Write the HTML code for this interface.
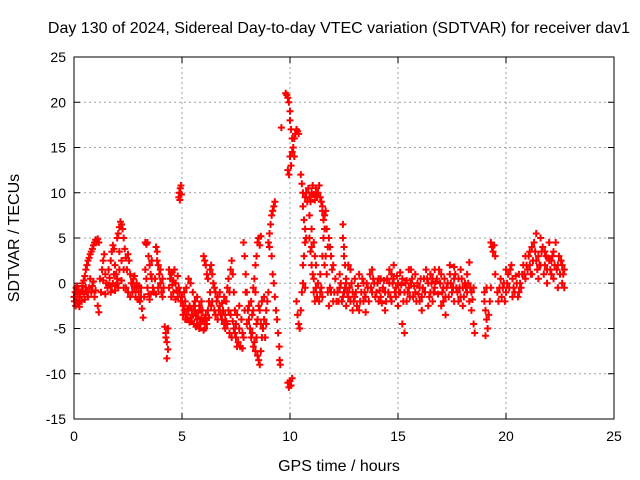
<!DOCTYPE html>
<html><head><meta charset="utf-8"><style>
body{margin:0;background:#fff;}
svg{display:block;font-family:"Liberation Sans",sans-serif;}
</style></head><body>
<svg id="chart" width="640" height="480">
<rect x="0" y="0" width="640" height="480" fill="#fff"/>
<text x="339" y="33" font-size="16" text-anchor="middle">Day 130 of 2024, Sidereal Day-to-day VTEC variation (SDTVAR) for receiver dav1</text>
<text x="339" y="471" font-size="16" text-anchor="middle">GPS time / hours</text>
<text transform="translate(19,238) rotate(-90)" font-size="16" text-anchor="middle">SDTVAR / TECUs</text>
<g id="grid"></g><g id="ticks"></g><g id="pts"></g>
<rect x="74" y="57" width="540" height="362" fill="none" stroke="#000" stroke-width="1"/>
</svg>
<script>
const xTicks=[0,5,10,15,20,25];
const yTicks=[-15,-10,-5,0,5,10,15,20,25];
const segStart=[[0,-1.5],[0.02,-2],[0.05,-1],[0.08,-2.5],[0.1,-0.5],[0.12,-1.8],[0.15,-1.2],[0.18,-2.2],[0.2,-0.8],[0.25,-1.5],[0.3,-1],[0.35,-2],[0.4,-0.3],[0.45,-1.2],[0.5,-1.8],[0.55,-0.5],[0.6,-1],[0.4,0],[0.5,0.8],[0.55,1.5],[0.6,2],[0.65,2.5],[0.7,2.8],[0.75,3.2],[0.8,3.5],[0.85,3.8],[0.9,4.2],[0.95,4.5],[1.0,4.8],[1.05,4.6],[1.1,4.9],[1.15,4.5],[0.7,-0.5],[0.8,-1],[0.9,0.2],[1.0,-0.8],[1.1,-2.5],[1.15,-3.2],[1.2,0.5],[1.3,1.5],[1.35,2.5],[1.4,3.2],[1.45,1],[1.5,0],[1.55,-0.5],[1.6,1.5],[1.7,2.5],[1.75,3.5],[1.8,4.2],[1.85,3.8],[1.9,2],[1.95,1],[2.0,0],[2.05,-0.5],[2.0,5],[2.05,5.5],[2.1,6.2],[2.15,6.8],[2.2,6.5],[2.25,6],[2.3,5],[0.15,-0.3],[0.25,-2.6],[0.35,-0.8],[0.45,0.3],[0.65,-1.5],[0.75,0.5],[0.85,-0.3],[0.95,-1.5],[1.25,-1],[1.35,0.3],[1.45,-1.2],[1.65,0.6],[1.75,-0.3],[1.85,1],[1.95,-0.2],[2.1,3.5],[2.2,2.5],[2.3,1.5],[2.35,3.8]];
const segEarly=[[1.6,-0.2],[1.7,-1],[1.8,0],[1.9,-0.8],[2.0,0.5],[2.1,1.5],[2.2,0.3],[2.3,-0.5],[2.4,2.8],[2.5,3.2],[2.45,1.5],[2.55,2.5],[2.6,1],[2.65,0],[2.7,-1],[2.75,0.5],[2.8,-0.5],[2.85,-1.5],[2.9,-0.5],[3.0,-1],[3.05,-2],[3.1,-1.5],[3.15,-2.8],[3.2,-3.8],[3.25,-1.5],[2.4,-0.5],[2.5,-1],[2.6,-1.5],[2.7,0],[2.8,0.8],[2.9,0],[3.0,-0.3],[3.3,4.5],[3.35,4.3],[3.4,4.5],[3.45,3],[3.5,2],[3.55,1],[3.6,0.5],[3.65,-0.5],[3.7,-1],[3.3,1.5],[3.35,0.5],[3.4,-0.5],[3.45,-1.2],[3.5,-1.8],[3.8,4],[3.85,3.5],[3.9,2],[3.95,1],[4.0,0],[4.05,-1],[4.1,-1.5],[4.15,-0.5],[3.9,-0.5],[3.85,2.5],[4.2,-4.8],[4.25,-5.5],[4.3,-6.5],[4.35,-7.3],[4.3,-8.3],[4.25,-6],[4.35,-5],[4.4,1.5],[4.45,0.5],[4.5,1],[4.55,-0.2],[4.6,0.3],[4.65,1.5],[4.7,0],[4.75,-0.8],[4.8,-1.5],[4.85,-0.5],[4.9,-1],[4.95,-2],[4.5,-1.5],[4.6,-1],[4.85,9.5],[4.88,10],[4.9,9.2],[4.92,10.5],[4.95,10.8],[4.97,9.8],[2.95,-1.8],[3.1,-0.5],[3.55,-1.2],[3.6,2.5],[3.75,0.5],[3.8,-1.2],[4.0,1.5],[4.1,0.5],[4.4,-0.5],[4.55,1.2],[4.7,-1.8],[4.8,0.8]];
const segMid=[[5.0,-1.5],[5.05,-2.5],[5.1,-3],[5.15,-2],[5.2,-3.5],[5.25,-4],[5.3,-3],[5.35,-2.5],[5.4,-3.8],[5.45,-4.2],[5.5,-3.5],[5.55,-4.5],[5.6,-3],[5.65,-4.8],[5.7,-4],[5.75,-3.2],[5.8,-5],[5.85,-4.5],[5.9,-3.8],[5.95,-4.2],[6.0,-5.2],[6.05,-4],[6.1,-3.5],[6.15,-4.5],[6.2,-3],[6.25,-2],[6.3,-1],[5.1,-1],[5.2,-0.5],[5.3,0.5],[5.4,0],[5.5,-1],[5.6,-2],[5.7,-1.5],[5.8,-2.5],[5.9,-2],[6.0,3],[6.05,2.5],[6.1,2],[6.15,1],[6.2,0.5],[6.3,1.5],[6.35,2],[6.4,1],[6.45,0],[6.5,-0.5],[6.4,-2],[6.5,-3],[6.55,-1],[6.6,-2],[6.65,-1.5],[6.7,-3],[6.75,-2.5],[6.8,-3.5],[6.85,-4],[6.9,-3],[6.95,-4.5],[7.0,-3.5],[7.05,-2],[7.1,-0.5],[7.15,0.5],[7.2,-1],[7.25,1.5],[7.3,2.5],[7.35,1],[7.4,-1],[7.45,-3],[7.5,-4.5],[7.5,-6],[7.55,-7],[7.6,-6.5],[7.65,-5],[7.7,-7],[7.8,-7.2],[7.85,-6],[7.9,-3],[7.95,-1],[7.0,-5],[7.1,-4.5],[7.2,-5.5],[7.3,-6],[7.4,-5],[7.25,-3.5],[7.85,4.5],[7.9,3],[7.95,1],[8.0,-1],[8.05,-3],[8.1,-4],[8.15,-5],[8.2,-6],[8.25,-5.5],[8.3,-7],[8.35,-6.5],[8.4,-7.5],[8.45,-6],[8.5,-8],[8.55,-8.5],[8.6,-9],[8.65,-7.5],[8.7,-6],[8.75,-5],[8.8,-4],[8.85,-6],[8.9,-3],[8.95,-2],[9.0,-1],[8.2,-2],[8.3,-3],[8.4,-1],[8.5,-4],[8.6,-3],[8.7,-2],[8.3,-0.5],[8.35,0.5],[8.4,2],[8.45,3],[8.5,4.5],[8.55,5],[8.6,4.2],[8.65,5.2],[5.05,-3.5],[5.15,-4],[5.25,-2.8],[5.35,-4.3],[5.45,-3],[5.55,-2.5],[5.65,-3.6],[5.75,-4.6],[5.85,-3],[5.95,-3],[6.05,-5],[6.25,-3.8],[6.35,-2.5],[6.55,-3.5],[6.65,-4],[6.75,-1],[6.85,-2.2],[6.95,-1.5],[7.05,-4.2],[7.15,-3],[7.35,-4.2],[7.45,-5.5],[7.55,-3.5],[7.65,-2.5],[7.75,-4],[7.8,-5.5],[8.0,-4.5],[8.1,-2.5],[8.25,-3.5],[8.45,-4.5],[8.55,-2.5],[8.65,-4.5],[8.8,-1.5],[8.9,-4.5]];
const segPeak=[[9.0,4.5],[9.05,5.5],[9.1,6.5],[9.15,7.5],[9.2,8],[9.25,8.5],[9.3,9],[9.05,4],[9.15,3],[9.2,1],[9.25,0],[9.3,-1.5],[9.35,-3],[9.4,-4],[9.45,-5.5],[9.5,-7],[9.52,-8.5],[9.55,-9],[9.6,17.2],[9.8,21],[9.85,20.8],[9.9,20.5],[9.95,20],[10.0,19],[10.0,18],[10.05,17],[10.1,16],[10.0,14],[10.05,13],[9.9,12.5],[9.95,12],[10.15,15],[10.2,16],[10.25,16.5],[10.3,17],[10.35,16.8],[10.4,16.5],[10.1,14.5],[10.2,14],[9.9,-11],[9.95,-11.5],[10.0,-10.8],[10.05,-11.3],[10.1,-10.5],[10.3,-2],[10.35,-3.5],[10.4,-4.5],[10.45,-5],[10.5,-3],[10.55,-1],[10.6,0],[10.6,2],[10.65,3],[10.7,4.5],[10.75,5],[10.7,-0.5],[10.5,12],[10.55,11],[10.6,10],[10.6,8.5],[10.65,7],[10.7,6],[10.7,9.5],[10.75,10],[10.9,9.5],[11.0,10],[11.1,9.8],[11.2,10.5],[11.3,10],[11.4,9.5],[11.5,8.5],[11.6,7.5],[11.7,6],[11.8,5],[11.9,3],[12.0,2],[12.1,0.5],[12.2,-1],[10.8,9],[10.9,7.5],[11.0,6],[11.1,4.5],[11.15,3],[11.2,2],[11.3,0],[11.4,-1],[11.5,-1.5],[11.0,2],[11.1,0.5],[11.2,-0.5],[11.4,1],[11.5,3],[11.55,5],[11.6,2],[10.9,5],[10.95,3.5],[11.0,4],[11.05,1],[11.1,-1],[11.15,-2],[11.5,8],[11.6,6],[11.65,3],[11.7,1],[11.75,-1],[11.8,-2.5],[11.9,-1],[12.0,-2],[12.45,6.5],[12.45,5],[12.5,4],[12.5,3],[12.55,2],[12.6,0.5],[10.85,10.5],[10.95,9],[11.05,10.8],[11.15,9.2],[11.25,9.6],[11.35,10.8],[11.45,9],[11.55,7],[11.65,8],[11.75,4],[11.85,4],[11.95,1.5],[11.25,-1.5],[11.35,-2],[11.45,-0.5],[11.85,-0.5],[12.05,-1],[12.15,-2]];
const segQuiet=[[12.2,-1],[12.3,-0.5],[12.4,-2],[12.5,-1],[12.6,0],[12.7,-1.5],[12.8,-2],[12.9,-1],[13.0,0.5],[13.1,-2.5],[13.2,-3],[13.3,-1],[13.4,0],[13.5,-1.5],[13.6,-0.5],[13.7,1],[13.8,1.5],[13.9,0],[14.0,-1],[14.1,-2],[14.2,-1.5],[14.3,-0.5],[14.4,-1],[14.5,0.5],[14.6,0],[14.7,1],[14.8,0.5],[14.9,-0.5],[15.0,0],[15.1,1.2],[15.2,0.5],[15.3,-1],[15.4,-2],[15.5,-0.5],[15.6,0],[15.7,-1.5],[15.8,-1],[15.9,0],[16.0,-0.5],[16.1,-1.5],[16.2,0.5],[16.3,1.5],[16.4,0],[16.5,-1],[16.6,-2],[16.7,-0.5],[16.8,0.5],[16.9,1.5],[17.0,1],[17.1,-0.5],[17.2,-1.5],[17.3,0],[17.4,1],[17.5,-1],[17.6,0.5],[17.7,-0.5],[17.8,-2],[17.9,-1.5],[18.0,-0.5],[18.1,0],[18.2,-1],[18.3,-2],[18.4,-1],[18.5,-0.5],[12.3,1],[12.6,-2.5],[12.9,-3],[13.2,1],[13.5,-3.2],[13.8,-1],[14.1,0.5],[14.4,-3],[14.7,-2],[15.0,-2.5],[15.2,-4.5],[15.3,-5.5],[15.5,1.5],[15.8,1],[16.1,-3],[16.4,-2.5],[16.7,1.5],[17.0,-2.5],[17.2,-3.5],[17.4,2],[17.6,-2],[17.9,1.5],[18.2,1],[18.4,-3],[18.5,-4.5],[18.55,-5.5],[12.8,1.5],[12.7,2],[14.6,1.5],[14.8,2],[15.6,1.5],[16.5,1],[17.6,1.8],[18.3,2.3],[13.0,-1.5],[13.4,-2],[14.2,0.5],[14.9,-1.5],[15.1,-1],[15.4,0.3],[16.0,-2],[16.6,0.5],[17.1,-2],[17.8,0.5],[18.0,-2.5]];
const segQuiet2=[[12.25,-2],[12.35,0],[12.45,-1.5],[12.55,-0.5],[12.65,-1],[12.75,-0.5],[12.85,0],[12.95,-2],[13.05,-1],[13.15,-0.3],[13.25,-2],[13.35,0.5],[13.45,-1],[13.55,0],[13.65,-2],[13.75,-0.5],[13.85,0.5],[13.95,-1.5],[14.05,0],[14.15,-0.8],[14.25,-2.2],[14.35,0.3],[14.45,-2],[14.55,-1],[14.65,-1.5],[14.75,0],[14.85,-1],[14.95,0.8],[15.05,-1],[15.15,-0.2],[15.25,-2],[15.35,0],[15.45,-1],[15.55,-1.5],[15.65,0.5],[15.75,-0.3],[15.85,-2],[15.95,-1.2],[16.05,0.5],[16.15,-0.5],[16.25,-1],[16.35,0.5],[16.45,-1.5],[16.55,0],[16.65,-1],[16.75,0.2],[16.85,-1.2],[16.95,0],[17.05,-1],[17.15,0.5],[17.25,-0.5],[17.35,-1.5],[17.45,0],[17.55,-0.5],[17.65,1],[17.75,-1],[17.85,-0.5],[17.95,0.5],[18.05,-1.5],[18.15,-0.5],[18.25,0],[18.35,-0.5],[18.45,-1.8]];
const segLate=[[19.0,-2],[19.05,-3],[19.1,-4],[19.15,-5],[19.2,-3.5],[19.0,-1],[19.1,-0.5],[19.25,-2],[19.05,-5.8],[19.3,-0.5],[19.3,4.5],[19.35,4],[19.4,3.5],[19.45,4.2],[19.5,1],[19.5,3],[19.6,-1],[19.7,-0.5],[19.8,-1.5],[19.9,0],[20.0,-1],[20.1,1],[20.2,1.5],[20.3,0.5],[20.4,-1],[20.5,0],[20.6,1],[20.7,-0.5],[20.8,2],[20.9,3],[21.0,1.5],[21.1,2],[21.2,4],[21.3,4.5],[21.4,2.5],[21.5,3],[21.6,5],[21.7,4],[21.8,2],[21.9,1.5],[22.0,2.5],[22.1,1],[22.2,3.5],[22.3,4.5],[22.4,2],[22.5,1],[22.6,0],[22.7,1.5],[20.0,1.5],[20.3,-1.5],[20.6,-1],[20.9,0.5],[21.2,1],[21.5,0.5],[21.8,3.5],[22.0,4.5],[22.2,0.5],[22.4,-0.5],[22.6,2],[22.7,-0.5],[21.1,3.5],[21.4,5.5],[21.6,2],[21.9,0],[22.1,2.5],[19.65,-2],[19.75,0.5],[19.85,-0.5],[19.95,-2],[20.05,0],[20.15,-0.5],[20.25,2],[20.35,-0.5],[20.45,0.8],[20.55,-1.5],[20.65,0],[20.75,1],[20.85,1],[20.95,2],[21.05,3],[21.15,1],[21.25,2.5],[21.35,3.5],[21.45,1.5],[21.55,2],[21.65,3.5],[21.75,1],[21.85,3],[21.95,2.8],[22.05,1.5],[22.15,3],[22.25,2],[22.35,1.5],[22.45,3],[22.55,2.5],[22.65,1]];
const X0=74,X1=614,Y0=419,Y1=57,XMIN=0,XMAX=25,YMIN=-15,YMAX=25;
const sx=h=>X0+(h-XMIN)/(XMAX-XMIN)*(X1-X0);
const sy=v=>Y0-(v-YMIN)/(YMAX-YMIN)*(Y0-Y1);
const NS='http://www.w3.org/2000/svg';
const grid=document.getElementById('grid'),ticks=document.getElementById('ticks'),pts=document.getElementById('pts');
function mk(tag,attrs,parent){const e=document.createElementNS(NS,tag);for(const k in attrs)e.setAttribute(k,attrs[k]);parent.appendChild(e);return e;}
xTicks.forEach(t=>{const x=sx(t);
 if(t>XMIN&&t<XMAX){const g=mk('line',{x1:x,x2:x,y1:Y1,y2:Y0,stroke:'#a0a0a0','stroke-dasharray':'2,3'},grid);
 
 }
 mk('line',{x1:x,x2:x,y1:Y0,y2:Y0-6,stroke:'#000'},ticks);mk('line',{x1:x,x2:x,y1:Y1,y2:Y1+6,stroke:'#000'},ticks);
 const tx=mk('text',{x:x,y:Y0+22,'font-size':14,'text-anchor':'middle'},ticks);tx.textContent=t;
 
 });
yTicks.forEach(t=>{const y=sy(t);
 if(t>YMIN&&t<YMAX){const g=mk('line',{x1:X0,x2:X1,y1:y,y2:y,stroke:'#a0a0a0','stroke-dasharray':'2,3'},grid);
 
 }
 mk('line',{x1:X0,x2:X0+6,y1:y,y2:y,stroke:'#000'},ticks);mk('line',{x1:X1,x2:X1-6,y1:y,y2:y,stroke:'#000'},ticks);
 const tx=mk('text',{x:X0-8,y:y+5,'font-size':14,'text-anchor':'end'},ticks);tx.textContent=t;
 
 });
[segStart,segEarly,segMid,segPeak,segQuiet,segQuiet2,segLate].forEach(seg=>{
 let d='';seg.forEach(([h,v])=>{const x=sx(h),y=sy(v);d+=`M${x-3.5},${y}h7M${x},${y-3.5}v7`;});
 const p=mk('path',{d:d,stroke:'#ff0000','stroke-width':2,fill:'none'},pts);
 
 
});
</script>
</body></html>
